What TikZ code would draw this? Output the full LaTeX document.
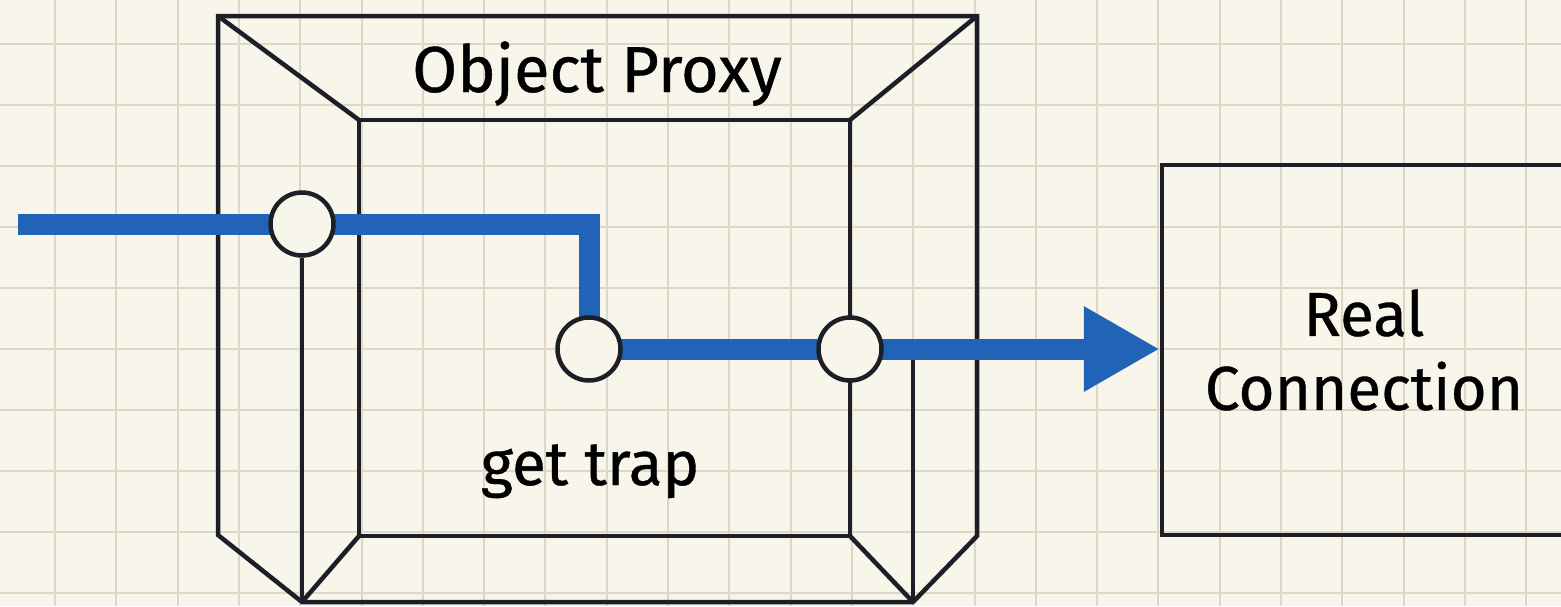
\documentclass[tikz,border=0pt]{standalone}
\usepackage{fontspec}
\setmainfont{Fira Sans}[FakeBold=0.6]
\usetikzlibrary{arrows.meta}
\definecolor{paper}{RGB}{248,245,234}
\definecolor{gridc}{RGB}{221,215,200}
\definecolor{ink}{RGB}{28,32,38}
\definecolor{flow}{RGB}{33,99,182}
\pgfdeclarelayer{bg}
\pgfdeclarelayer{mid}
\pgfsetlayers{bg,mid,main}
\begin{document}
\begin{tikzpicture}[x=1pt,y=-1pt,
  frame/.style={draw=ink, line width=4.5pt, line join=miter},
  port/.style={circle, draw=ink, line width=4.5pt, fill=paper, minimum size=63pt, inner sep=0pt},
  txt/.style={text=black, inner sep=0pt, font=\fontsize{62}{74}\selectfont},
  boxnode/.style={draw=ink, line width=4.5pt, align=center, inner sep=0pt},
  gridline/.style={draw=gridc, line width=2pt},
  flowline/.style={draw=flow, line width=21pt, line join=miter}]
\useasboundingbox (0,0) rectangle (1561,606);
\begin{pgfonlayer}{bg}
\fill[paper] (0,0) rectangle (1561,606);
\foreach \i in {-1,...,25} \draw[gridline] ({55+61.3*\i},0) -- ({55+61.3*\i},606);
\foreach \j in {-1,...,9} \draw[gridline] (0,{44+61*\j}) -- (1561,{44+61*\j});
\end{pgfonlayer}
% ports and boxes
\node[port] (c1) at (302,224) {};
\node[port] (c2) at (589,349) {};
\node[port] (c3) at (850,349) {};
\node[boxnode, txt, minimum width=404pt, minimum height=370pt] (rc) at (1364,350) {Real\\Connection};
\node[txt, font=\fontsize{65}{78}\selectfont, anchor=base] (title) at (597,92) {Object Proxy};
\node[txt, anchor=base] (trap) at (590,485) {get trap};
\coordinate (in) at (18,224);
\begin{pgfonlayer}{mid}
% proxy frame
\draw[frame] (218,535) -- (218,16) -- (977,16) -- (977,536) -- (913,602) -- (302,602) -- cycle;
\draw[frame] (359,536) -- (359,120) -- (850,120) -- (850,536) -- cycle;
\draw[frame] (218,16) -- (359,120);
\draw[frame] (977,16) -- (850,120);
\draw[frame] (359,536) -- (302,602);
\draw[frame] (850,536) -- (913,602);
\draw[frame] (c1.south) -- (302,602);
\draw[frame] (913,349) -- (913,602);
% flow
\draw[flowline, -{Triangle[length=76pt,width=80pt]}] (in) -- (c1.center) -| (c2.center) -- (c3.center) -- (c3.center -| rc.west);
\end{pgfonlayer}
\end{tikzpicture}
\end{document}
